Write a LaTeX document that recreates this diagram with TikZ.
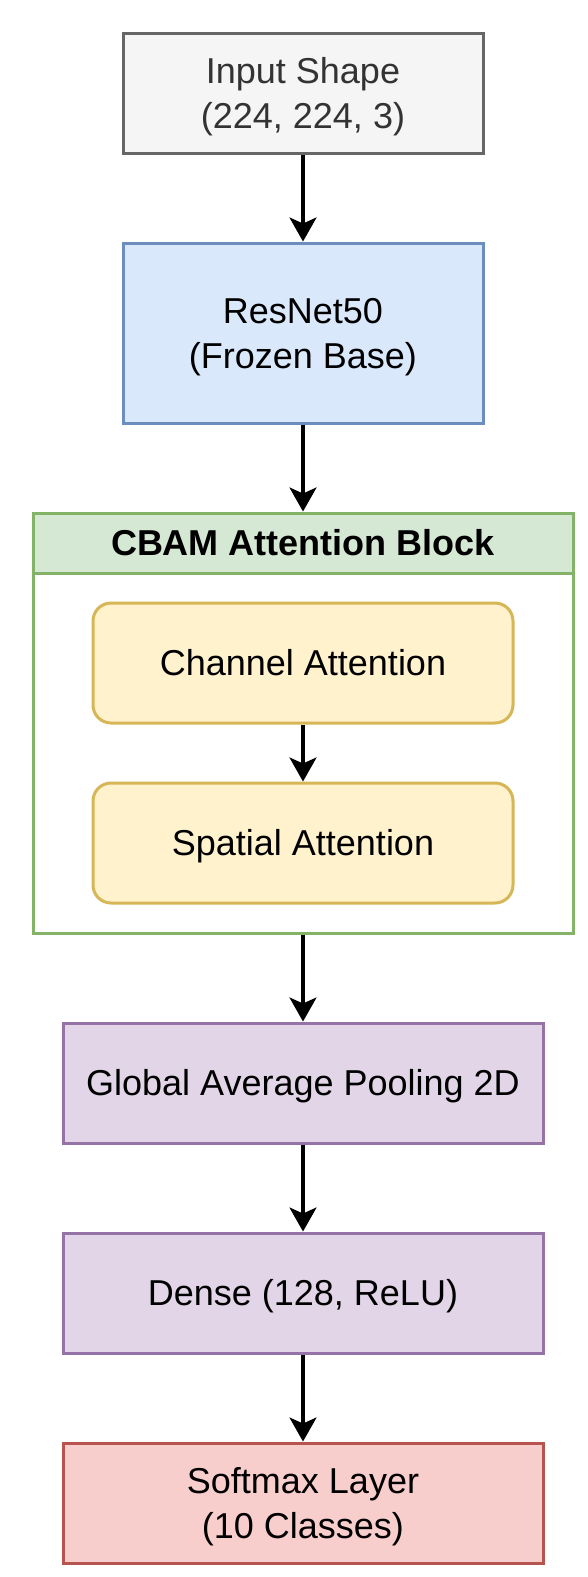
\documentclass[tikz,border=0pt]{standalone}
\usepackage{fontspec}
\setmainfont{Liberation Sans}
\usetikzlibrary{arrows.meta}
\definecolor{inputfill}{HTML}{F5F5F5}
\definecolor{inputdraw}{HTML}{666666}
\definecolor{inputtext}{HTML}{333333}
\definecolor{bluefill}{HTML}{DAE8FC}
\definecolor{bluedraw}{HTML}{6C8EBF}
\definecolor{greenfill}{HTML}{D5E8D4}
\definecolor{greendraw}{HTML}{82B366}
\definecolor{yellowfill}{HTML}{FFF2CC}
\definecolor{yellowdraw}{HTML}{D6B656}
\definecolor{purplefill}{HTML}{E1D5E7}
\definecolor{purpledraw}{HTML}{9673A6}
\definecolor{redfill}{HTML}{F8CECC}
\definecolor{reddraw}{HTML}{B85450}
\newcommand{\lstrut}{\rule[-10pt]{0pt}{45pt}}
\begin{document}
\begin{tikzpicture}[x=1pt,y=-1pt]
\tikzset{
  box/.style={draw, line width=3pt, inner sep=0pt, align=center,
    font=\fontsize{36}{45}\selectfont},
  arr/.style={line width=3.2pt, -{Stealth[length=24pt,width=27pt,inset=6pt]}}
}
\fill[white] (0,0) rectangle (587,1577);
\useasboundingbox (0,0) rectangle (587,1577);

\node[box, fill=inputfill, draw=inputdraw, text=inputtext, minimum width=360pt, minimum height=120pt] (input) at (303,93) {\lstrut Input Shape\\\lstrut(224, 224, 3)};
\node[box, fill=bluefill, draw=bluedraw, minimum width=360pt, minimum height=180pt] (resnet) at (303,333) {\lstrut ResNet50\\\lstrut(Frozen Base)};

\node[box, fill=white, draw=greendraw, minimum width=540pt, minimum height=420pt] (cbam) at (303,723) {};
\node[box, fill=greenfill, draw=greendraw, minimum width=540pt, minimum height=60pt, font=\fontsize{36}{45}\selectfont\bfseries] (cbamhead) at (303,543) {\lstrut CBAM Attention Block};

\node[box, fill=yellowfill, draw=yellowdraw, rounded corners=18pt, minimum width=420pt, minimum height=120pt] (channel) at (303,663) {\lstrut Channel Attention};
\node[box, fill=yellowfill, draw=yellowdraw, rounded corners=18pt, minimum width=420pt, minimum height=120pt] (spatial) at (303,843) {\lstrut Spatial Attention};

\node[box, fill=purplefill, draw=purpledraw, minimum width=480pt, minimum height=120pt] (gap) at (303,1083) {\lstrut Global Average Pooling 2D};
\node[box, fill=purplefill, draw=purpledraw, minimum width=480pt, minimum height=120pt] (dense) at (303,1293) {\lstrut Dense (128, ReLU)};
\node[box, fill=redfill, draw=reddraw, minimum width=480pt, minimum height=120pt] (softmax) at (303,1503) {\lstrut Softmax Layer\\\lstrut(10 Classes)};

\draw[arr] (input.south) -- (resnet.north);
\draw[arr] (resnet.south) -- (cbam.north);
\draw[arr] (channel.south) -- (spatial.north);
\draw[arr] (cbam.south) -- (gap.north);
\draw[arr] (gap.south) -- (dense.north);
\draw[arr] (dense.south) -- (softmax.north);
\end{tikzpicture}
\end{document}
